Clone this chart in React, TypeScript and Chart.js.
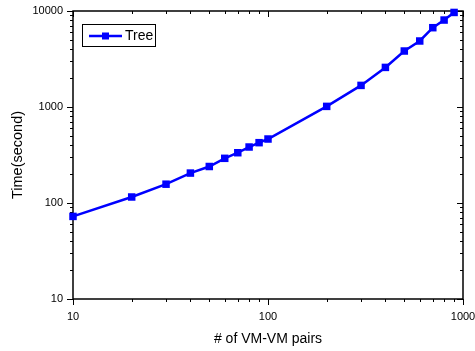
import { useEffect, useRef } from 'react';
import { Chart, registerables } from 'chart.js';

Chart.register(...registerables);

const pairs = [10, 20, 30, 40, 50, 60, 70, 80, 90, 100, 200, 300, 400, 500, 600, 700, 800, 900];
const timeSeconds = [72.5, 115.5, 157, 205, 240, 292, 334, 383, 425, 464, 1015, 1679, 2585, 3830, 4870, 6700, 8050, 9660];
const seriesLabel = 'Tree';
const xMajorTicks = [10, 100, 1000];
const yMajorTicks = [10, 100, 1000, 10000];
const xTitle = '# of VM-VM pairs';
const yTitle = 'Time(second)';

const FONT = "'Liberation Sans', Arial, sans-serif";
const BLUE = '#0000FF';

function minorValues(majors: number[]): number[] {
  const out: number[] = [];
  for (let i = 0; i < majors.length - 1; i++) {
    for (let k = 2; k <= 9; k++) out.push(majors[i] * k);
  }
  return out;
}

const framePlugin = {
  id: 'frameTicks',
  beforeDatasetsDraw(chart: any) {
    const { ctx, chartArea, scales } = chart;
    const { left, right, top, bottom } = chartArea;
    const x = scales.x;
    const y = scales.y;
    ctx.save();
    ctx.strokeStyle = '#000';
    ctx.lineWidth = 1.5;
    ctx.strokeRect(left, top, right - left, bottom - top);
    ctx.lineWidth = 1;
    ctx.beginPath();
    const drawX = (v: number, len: number) => {
      const px = Math.round(x.getPixelForValue(v)) + 0.5;
      ctx.moveTo(px, bottom);
      ctx.lineTo(px, bottom + len);
      ctx.moveTo(px, top);
      ctx.lineTo(px, top + len);
    };
    const drawY = (v: number, len: number) => {
      const py = Math.round(y.getPixelForValue(v)) + 0.5;
      ctx.moveTo(left, py);
      ctx.lineTo(left - len, py);
      ctx.moveTo(right, py);
      ctx.lineTo(right - len, py);
    };
    xMajorTicks.forEach((v) => drawX(v, 6));
    minorValues(xMajorTicks).forEach((v) => drawX(v, 3));
    yMajorTicks.forEach((v) => drawY(v, 6));
    minorValues(yMajorTicks).forEach((v) => drawY(v, 3));
    ctx.stroke();
    ctx.restore();
  },
  afterDraw(chart: any) {
    const { ctx, chartArea } = chart;
    const ds = chart.data.datasets[0];
    const lx = chartArea.left + 9;
    const ly = chartArea.top + 13;
    const w = 73;
    const h = 22;
    ctx.save();
    ctx.fillStyle = '#fff';
    ctx.fillRect(lx, ly, w, h);
    ctx.strokeStyle = '#000';
    ctx.lineWidth = 1;
    ctx.strokeRect(lx + 0.5, ly + 0.5, w, h);
    const cy = ly + 12;
    ctx.strokeStyle = ds.borderColor;
    ctx.lineWidth = 2.5;
    ctx.beginPath();
    ctx.moveTo(lx + 7, cy);
    ctx.lineTo(lx + 40, cy);
    ctx.stroke();
    ctx.fillStyle = ds.backgroundColor;
    ctx.fillRect(lx + 20, cy - 3.5, 7, 7);
    ctx.fillStyle = '#000';
    ctx.font = `14px ${FONT}`;
    ctx.textBaseline = 'middle';
    ctx.textAlign = 'left';
    ctx.fillText(ds.label, lx + 43, cy);
    ctx.restore();
  },
};

export default function App() {
  const ref = useRef<HTMLCanvasElement | null>(null);

  useEffect(() => {
    if (!ref.current) return;
    const chart = new Chart(ref.current, {
      type: 'line',
      data: {
        datasets: [
          {
            label: seriesLabel,
            data: pairs.map((p, i) => ({ x: p, y: timeSeconds[i] })),
            borderColor: BLUE,
            backgroundColor: BLUE,
            borderWidth: 2.5,
            pointStyle: 'rect',
            pointRadius: 5.3,
            pointBorderWidth: 0,
            pointBackgroundColor: BLUE,
            clip: false as any,
            tension: 0,
          },
        ],
      },
      options: {
        animation: false,
        responsive: false,
        layout: { padding: { top: 11, right: 12, left: 0, bottom: 0 } },
        plugins: { legend: { display: false }, tooltip: { enabled: false } },
        scales: {
          x: {
            type: 'logarithmic',
            min: 10,
            max: 1000,
            afterBuildTicks: (s: any) => {
              s.ticks = xMajorTicks.map((value) => ({ value }));
            },
            afterFit: (s: any) => {
              s.height = 52;
              s.paddingLeft = 0;
              s.paddingRight = 0;
            },
            grid: { display: false, drawTicks: false },
            border: { display: false },
            ticks: {
              padding: 11,
              color: '#000',
              maxRotation: 0,
              font: { family: FONT, size: 11 },
              callback: (v: any) => String(v),
            },
            title: {
              display: true,
              text: xTitle,
              color: '#000',
              font: { family: FONT, size: 14 },
              padding: { top: 0, bottom: 3.6 },
            },
          },
          y: {
            type: 'logarithmic',
            min: 10,
            max: 10000,
            afterBuildTicks: (s: any) => {
              s.ticks = yMajorTicks.map((value) => ({ value }));
            },
            afterFit: (s: any) => {
              s.width = 73;
              s.paddingTop = 0;
              s.paddingBottom = 0;
            },
            grid: { display: false, drawTicks: false },
            border: { display: false },
            ticks: {
              padding: 10,
              color: '#000',
              font: { family: FONT, size: 11 },
              callback: (v: any) => String(v),
            },
            title: {
              display: true,
              text: yTitle,
              color: '#000',
              font: { family: FONT, size: 14.5 },
              padding: { top: 9, bottom: 0 },
            },
          },
        },
      },
      plugins: [framePlugin],
    });
    return () => chart.destroy();
  }, []);

  return (
    <div style={{ position: 'absolute', left: 0, top: 0, width: 475, height: 351, background: '#fff' }}>
      <canvas ref={ref} width={475} height={351} style={{ display: 'block' }} />
    </div>
  );
}
